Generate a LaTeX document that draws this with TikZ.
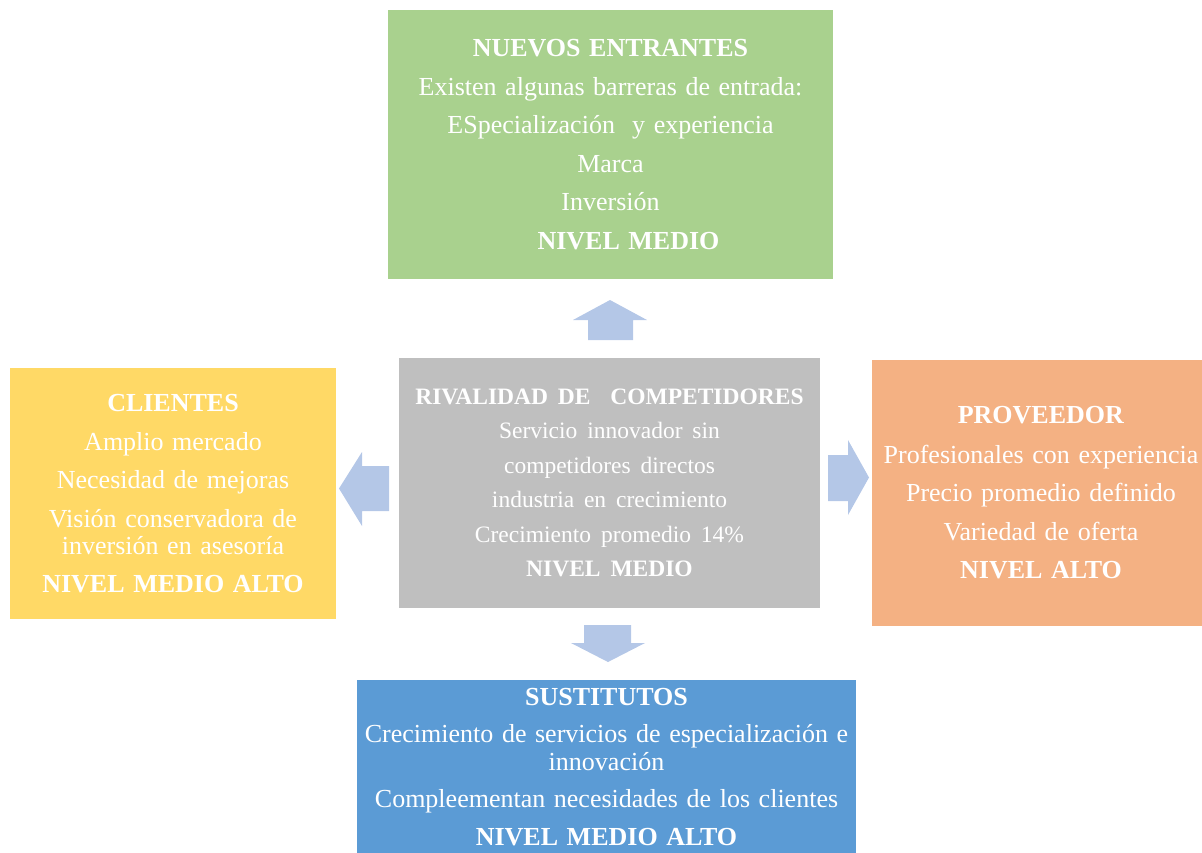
\documentclass[tikz,border=0pt]{standalone}
\usepackage{fontspec}
\setmainfont{Liberation Serif}
\definecolor{boxgreen}{HTML}{A9D18E}
\definecolor{boxyellow}{HTML}{FFD966}
\definecolor{boxgray}{HTML}{BFBFBF}
\definecolor{boxorange}{HTML}{F4B183}
\definecolor{boxblue}{HTML}{5B9BD5}
\definecolor{arrowblue}{HTML}{B4C7E7}
\newcommand\bigtxt{\fontsize{26}{27.5}\selectfont\spaceskip=0.33em plus 0.1em\relax}
\newcommand\smalltxt{\fontsize{23.5}{34.5}\selectfont\spaceskip=0.42em plus 0.1em\relax}
\begin{document}
\begin{tikzpicture}[x=1pt,y=-1pt,
  forcebox/.style={rectangle, inner sep=0pt, text=white, align=center, font=\bigtxt},
  blockarrow/.style={fill=arrowblue}]
\useasboundingbox (0,0) rectangle (1202,852);
\clip (0,0) rectangle (1202,852);

% Nuevos entrantes
\node[forcebox, fill=boxgreen, minimum width=445pt, minimum height=269pt] (ne) at (610.5,144.5)
{\textbf{NUEVOS ENTRANTES}\\[11pt]
Existen algunas barreras de entrada:\\[11pt]
ESpecialización\ \ y experiencia\\[11pt]
Marca\\[11pt]
Inversión\\[11pt]
\hspace*{36pt}\textbf{NIVEL MEDIO}};

% Clientes
\node[forcebox, fill=boxyellow, minimum width=326pt, minimum height=251pt] (cl) at (173,493.5)
{\textbf{CLIENTES}\\[11pt]
Amplio mercado\\[11pt]
Necesidad de mejoras\\[11pt]
Visión conservadora de\\
inversión en asesoría\\[10pt]
\textbf{NIVEL MEDIO ALTO}};

% Rivalidad
\node[forcebox, font=\smalltxt, fill=boxgray, minimum width=421pt, minimum height=250pt] (ri) at (609.5,483)
{\textbf{RIVALIDAD DE\ \ COMPETIDORES}\\
Servicio innovador sin\\
competidores directos\\
industria en crecimiento\\
Crecimiento promedio 14\%\\
\textbf{NIVEL MEDIO}};

% Proveedor
\node[forcebox, fill=boxorange, minimum width=338pt, minimum height=266pt] (pr) at (1041,493)
{\textbf{PROVEEDOR}\\[12pt]
Profesionales con experiencia\\[11pt]
Precio promedio definido\\[11pt]
Variedad de oferta\\[11pt]
\textbf{NIVEL ALTO}};

% Sustitutos
\node[forcebox, fill=boxblue, minimum width=499pt, minimum height=174pt] (su) at (606.5,767)
{\textbf{SUSTITUTOS}\\[10pt]
Crecimiento de servicios de especialización e\\
innovación\\[10pt]
Compleementan necesidades de los clientes\\[10pt]
\textbf{NIVEL MEDIO ALTO}};

% Block arrows
\fill[blockarrow] (588,340) -- (588,320) -- (573,320) -- (610,300) -- (647,320) -- (633,320) -- (633,340) -- cycle;
\fill[blockarrow] (389,466) -- (362,466) -- (362,452) -- (339,488.5) -- (362,526) -- (362,511) -- (389,511) -- cycle;
\fill[blockarrow] (828,455) -- (848,455) -- (848,440) -- (869,477.5) -- (848,515) -- (848,501) -- (828,501) -- cycle;
\fill[blockarrow] (584,625) -- (631,625) -- (631,643) -- (645,643) -- (608,662) -- (571,643) -- (584,643) -- cycle;
\end{tikzpicture}
\end{document}
